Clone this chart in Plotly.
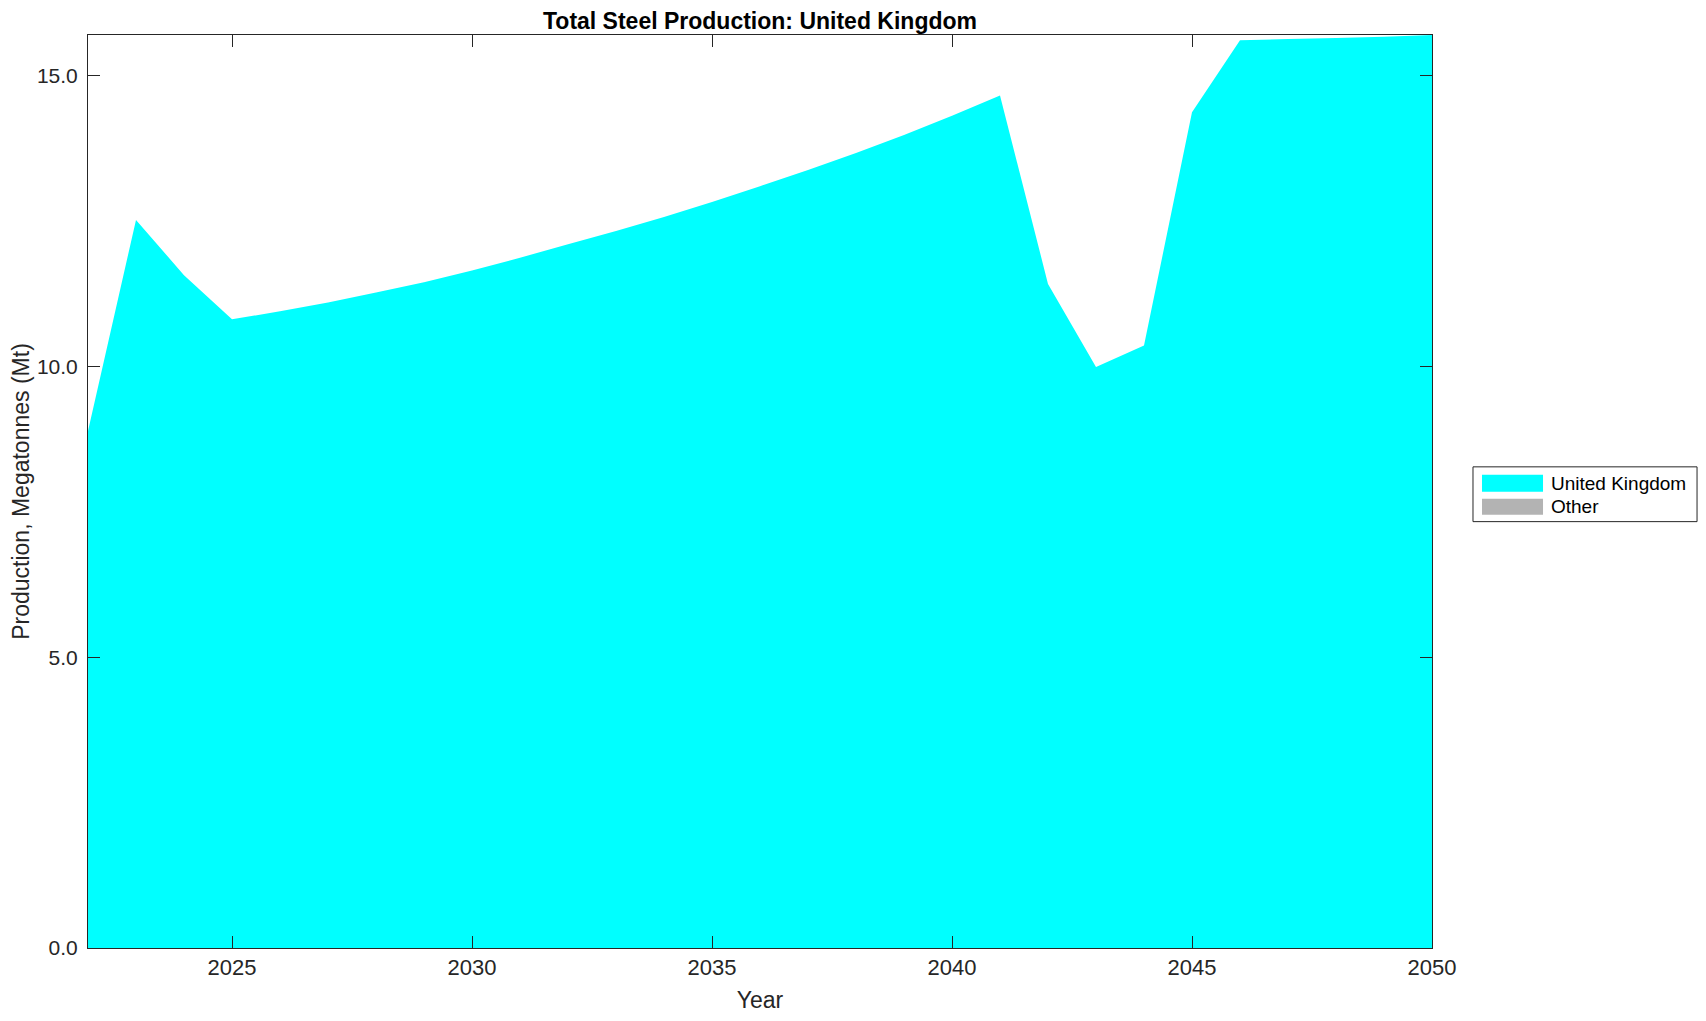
import plotly.graph_objects as go

years = list(range(2022, 2051))
uk_production = [8.89, 12.52, 11.57, 10.81, 10.95, 11.10, 11.27, 11.45, 11.65, 11.87,
                 12.10, 12.33, 12.57, 12.83, 13.10, 13.38, 13.67, 13.98, 14.31, 14.66,
                 11.42, 9.99, 10.36, 14.37, 15.61, 15.63, 15.65, 15.67, 15.70]
other_production = [0.0] * len(years)

series_names = ["United Kingdom", "Other"]
series_colors = ["#00FFFF", "#B3B3B3"]

x_ticks = [2025, 2030, 2035, 2040, 2045, 2050]
y_ticks = [0, 5, 10, 15]

FONT = "Liberation Sans, Arial, Helvetica, sans-serif"
INK = "#262626"

fig = go.Figure()
for name, vals, col in zip(series_names, [uk_production, other_production], series_colors):
    fig.add_trace(go.Scatter(
        x=years, y=vals, name=name, stackgroup="one",
        mode="none", fillcolor=col, line=dict(width=0), showlegend=False,
    ))

axis_common = dict(
    showline=True, linecolor=INK, linewidth=1, mirror="ticks",
    ticks="inside", ticklen=12, tickcolor=INK, tickwidth=1,
    showgrid=False, zeroline=False,
)

# custom legend (MATLAB style box with wide swatches)
DY = -0.003
L_X0, L_X1, L_Y0, L_Y1 = 1.0305, 1.1972, 0.470 + DY, 0.530 + DY
shapes = [dict(type="rect", xref="paper", yref="paper", x0=L_X0, x1=L_X1, y0=L_Y0, y1=L_Y1,
               line=dict(color=INK, width=1), fillcolor="white", layer="below")]
annotations = []
rows = [(0.5027 + DY, 0.5213 + DY), (0.4776 + DY, 0.4951 + DY)]
for (y0, y1), name, col in zip(rows, series_names, series_colors):
    shapes.append(dict(type="rect", xref="paper", yref="paper", x0=1.0372, x1=1.0826,
                       y0=y0, y1=y1, line=dict(width=0), fillcolor=col))
    annotations.append(dict(xref="paper", yref="paper", x=1.0871, y=(y0 + y1) / 2,
                            xanchor="left", yanchor="middle", showarrow=False, text=name,
                            font=dict(family=FONT, size=19, color="black")))

fig.update_layout(
    width=1706, height=1021,
    margin=dict(l=88, r=274, t=35, b=69),
    paper_bgcolor="white", plot_bgcolor="white",
    title=dict(text="<b>Total Steel Production: United Kingdom</b>",
               x=0.5, xref="paper", xanchor="center", y=0.9799, yanchor="middle",
               font=dict(family=FONT, size=23, color="black")),
    xaxis=dict(range=[2022, 2050], tickvals=x_ticks, ticklabelstandoff=0,
               tickfont=dict(family=FONT, size=22, color=INK),
               title=dict(text="Year", font=dict(family=FONT, size=23, color=INK), standoff=12),
               **axis_common),
    yaxis=dict(range=[0, 15.7], tickvals=y_ticks, tickformat=".1f", ticklabelstandoff=5,
               tickfont=dict(family=FONT, size=21, color=INK),
               title=dict(text="Production, Megatonnes (Mt)", font=dict(family=FONT, size=23, color=INK), standoff=0),
               **axis_common),
    shapes=shapes,
    annotations=annotations,
    showlegend=False,
)

# remove the page's default 8px body margin so the figure fills the window exactly
fig.write_html(
    "out.html",
    config={"displayModeBar": False},
    post_script="document.documentElement.style.margin='0';document.body.style.margin='0';"
                "document.body.style.overflow='hidden';",
)
